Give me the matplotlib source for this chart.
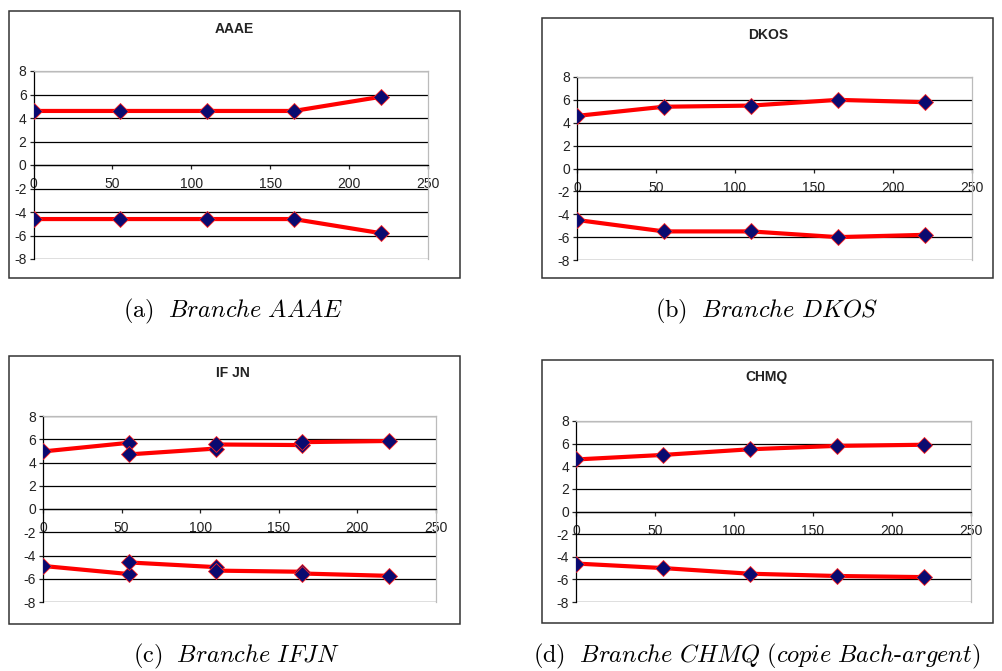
import matplotlib.pyplot as plt
from matplotlib.patches import Rectangle

plt.rcParams['mathtext.fontset'] = 'cm'
plt.rcParams['axes.unicode_minus'] = False

# donnees
x_pts = [0, 55, 110, 165, 220]

aaae_up = [4.6, 4.6, 4.6, 4.6, 5.8]
aaae_dn = [-4.6, -4.6, -4.6, -4.6, -5.8]

dkos_up = [4.6, 5.4, 5.5, 6.0, 5.8]
dkos_dn = [-4.5, -5.5, -5.5, -6.0, -5.8]

ifjn_x = [0, 55, 55, 110, 110, 165, 165, 220]
ifjn_up = [4.95, 5.7, 4.7, 5.2, 5.55, 5.5, 5.75, 5.85]
ifjn_dn = [-4.9, -5.6, -4.6, -5.0, -5.3, -5.4, -5.55, -5.75]

chmq_up = [4.6, 5.0, 5.5, 5.8, 5.9]
chmq_dn = [-4.6, -5.0, -5.5, -5.7, -5.8]

titles = ["AAAE", "DKOS", "IF JN", "CHMQ"]
captions = [r"$\mathrm{(a)}\ \ \mathit{Branche\ AAAE}$",
            r"$\mathrm{(b)}\ \ \mathit{Branche\ DKOS}$",
            r"$\mathrm{(c)}\ \ \mathit{Branche\ IFJN}$",
            r"$\mathrm{(d)}\ \ \mathit{Branche\ CHMQ\ (copie\ Bach}\text{-}\mathit{argent)}$"]

W, H = 1002, 671
fig = plt.figure(figsize=(W / 100, H / 100), dpi=100)


def px(x0, y0, x1, y1):
    # pixel box -> figure fraction [left, bottom, width, height]
    return [x0 / W, 1 - y1 / H, (x1 - x0) / W, (y1 - y0) / H]


axes_px = [(33.5, 71, 428, 259), (577, 77, 972, 260),
           (43, 416, 436, 602), (576, 421, 971, 602)]
boxes_px = [(9, 11, 460, 278), (542, 18, 993, 278),
            (9, 356, 460, 624), (542, 360, 993, 623)]
title_px = [(234, 29), (768, 35), (233, 373), (767, 377)]
cap_px = [(123, 311), (655, 311), (133, 656), (533, 656)]

series = [(x_pts, aaae_up, aaae_dn), (x_pts, dkos_up, dkos_dn),
          (ifjn_x, ifjn_up, ifjn_dn), (x_pts, chmq_up, chmq_dn)]

for i in range(4):
    bx = boxes_px[i]
    fig.patches.append(Rectangle((bx[0] / W, 1 - bx[3] / H), (bx[2] - bx[0]) / W,
                                 (bx[3] - bx[1]) / H, transform=fig.transFigure,
                                 fill=False, ec='#333333', lw=1.1))
    fig.text(title_px[i][0] / W, 1 - title_px[i][1] / H, titles[i], ha='center',
             va='center', fontsize=10, fontweight='bold', family='Liberation Sans',
             color='#222222')
    fig.text(cap_px[i][0] / W, 1 - cap_px[i][1] / H, captions[i], ha='left',
             va='center', fontsize=17.5)

    ax = fig.add_axes(px(*axes_px[i]))
    xs, up, dn = series[i]
    for ys in (up, dn):
        ax.plot(xs, ys, color='#ff0000', lw=3, marker='D', ms=8,
                mfc='#0a0a70', mec='#ff2020', mew=0.6, zorder=3)
    ax.set_xlim(0, 250)
    ax.set_ylim(-8, 8)
    ax.set_yticks(range(-8, 9, 2))
    ax.set_xticks(range(0, 251, 50))
    ax.yaxis.grid(True, color='black', lw=0.9)
    ax.set_axisbelow(True)
    ax.spines['bottom'].set_position(('data', 0))
    ax.spines['bottom'].set_color('black')
    ax.spines['left'].set_color('black')
    ax.spines['top'].set_color('#bbbbbb')
    ax.spines['right'].set_color('#bbbbbb')
    for s in ax.spines.values():
        s.set_linewidth(0.9)
    ax.tick_params(axis='both', direction='out', length=3, width=0.9,
                   labelsize=10, colors='#222222', pad=2)
    ax.tick_params(axis='x', pad=6)
    for lab in ax.get_xticklabels() + ax.get_yticklabels():
        lab.set_family('Liberation Sans')

fig.savefig('out.png', dpi=100)
